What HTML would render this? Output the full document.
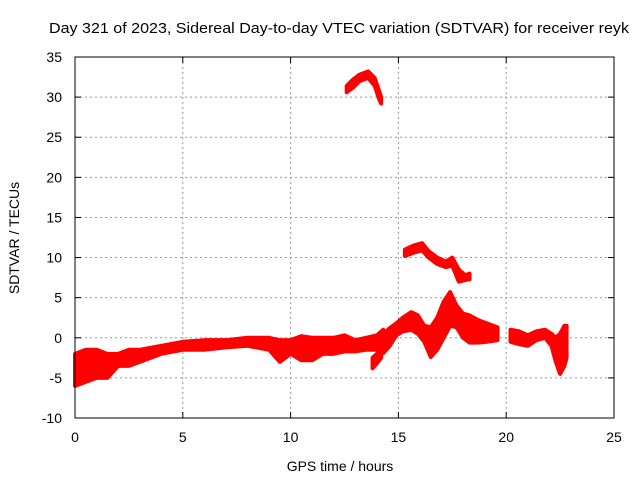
<!DOCTYPE html>
<html><head><meta charset="utf-8"><style>
body{margin:0;background:#fff;}
svg{display:block;font-family:"Liberation Sans",sans-serif;}
</style></head><body>
<svg id="chart" width="640" height="480">
<rect width="640" height="480" fill="#fff"/>
<text x="339" y="33" font-size="15" text-anchor="middle" textLength="580" lengthAdjust="spacingAndGlyphs">Day 321 of 2023, Sidereal Day-to-day VTEC variation (SDTVAR) for receiver reyk</text>
<text x="340" y="471" font-size="14" text-anchor="middle">GPS time / hours</text>
<text transform="translate(19,238) rotate(-90)" font-size="14" text-anchor="middle">SDTVAR / TECUs</text>
<g id="grid"></g><g id="ticks"></g><g id="data"></g>
<rect x="75" y="57" width="539" height="361" fill="none" stroke="#000" stroke-width="1"/>
</svg>
<script>
const xTicks=[0,5,10,15,20,25];
const yTicks=[-10,-5,0,5,10,15,20,25,30,35];
// bands: times, upper values, lower values
const mainT=[0,0.5,1,1.5,2,2.5,3,4,5,6,7,8,9,9.5,10,10.5,11,11.5,12,12.5,13,13.5,14,14.3];
const mainHi=[-2,-1.5,-1.5,-2,-2,-1.5,-1.5,-1,-0.5,-0.3,-0.3,0,0,-0.3,-0.3,0.2,0,0,0,0.3,-0.3,0,0.3,1];
const mainLo=[-6,-5.5,-5,-5,-3.5,-3.5,-3,-2,-1.5,-1.5,-1.2,-1,-1.5,-3,-2,-2.8,-2.8,-2,-2,-1.7,-1.7,-1.5,-1.5,-1];
const dipT=[13.8,14.0,14.2];
const dipHi=[-2.5,-2,-1.5];
const dipLo=[-3.8,-3.2,-2.5];
const waveT=[14.3,14.6,14.9,15.2,15.6,15.9,16.2,16.5,16.8,17.1,17.4,17.7,18.0,18.3,18.7,19.1,19.6];
const waveHi=[0.5,1.2,1.8,2.5,3.2,2.8,1.5,1.3,2.5,4.5,5.7,4.0,3.0,2.8,2.2,1.8,1.3];
const waveLo=[-1.9,-1.0,0.3,0.8,1.0,0.5,-0.5,-2.4,-1.5,0,1.5,1.3,0,-0.6,-0.6,-0.5,-0.3];
const highT=[15.3,15.7,16.1,16.4,16.8,17.2,17.5,17.8,18.1,18.3];
const highHi=[11.0,11.5,11.8,10.8,10.0,9.5,10.0,8.5,7.8,8.0];
const highLo=[10.2,10.6,10.9,10.0,9.2,8.8,9.0,7.0,7.2,7.3];
const topT=[12.6,12.9,13.2,13.6,13.9,14.1,14.2];
const topHi=[31.4,32.2,32.8,33.2,32.4,30.8,30.0];
const topLo=[30.6,31.2,32.0,32.4,31.4,29.8,29.2];
const lateT=[20.2,20.6,21.0,21.4,21.8,22.1,22.3,22.5,22.7,22.8];
const lateHi=[1.0,0.8,0.3,0.8,1.0,0.5,0,0.5,1.5,1.5];
const lateLo=[-0.5,-0.8,-1.0,-0.3,0,-1.0,-3.0,-4.5,-3.5,-2.5];
const sx=v=>75+v*539/25;
const sy=v=>418-(v+10)*361/45;
const NS="http://www.w3.org/2000/svg";
const grid=document.getElementById('grid'),ticks=document.getElementById('ticks'),data=document.getElementById('data');
function mk(tag,attrs,parent){const e=document.createElementNS(NS,tag);for(const k in attrs)e.setAttribute(k,attrs[k]);parent.appendChild(e);return e;}
xTicks.forEach(t=>{const x=sx(t);
 if(t>0&&t<25){const g=mk('line',{x1:x,x2:x,y1:57,y2:418,stroke:'#999','stroke-dasharray':'2,3'},grid);
 
 }
 mk('line',{x1:x,x2:x,y1:418,y2:412,stroke:'#000'},ticks);mk('line',{x1:x,x2:x,y1:57,y2:63,stroke:'#000'},ticks);
 const l=mk('text',{x:x,y:442,'font-size':14,'text-anchor':'middle'},ticks);l.textContent=t;
 
 });
yTicks.forEach(t=>{const y=sy(t);
 if(t>-10&&t<35){const g=mk('line',{x1:75,x2:614,y1:y,y2:y,stroke:'#999','stroke-dasharray':'2,3'},grid);
 
 }
 mk('line',{x1:75,x2:81,y1:y,y2:y,stroke:'#000'},ticks);mk('line',{x1:614,x2:608,y1:y,y2:y,stroke:'#000'},ticks);
 const l=mk('text',{x:62,y:y+5,'font-size':14,'text-anchor':'end'},ticks);l.textContent=t;
 
 });
function band(T,H,L,name){
 const pts=T.map((t,i)=>sx(t)+','+sy(H[i])).concat(T.map((t,i)=>sx(t)+','+sy(L[i])).reverse()).join(' ');
 const p=mk('polygon',{points:pts,fill:'#f00',stroke:'#f00','stroke-width':4,'stroke-linejoin':'round'},data);
 
 
}
band(mainT,mainHi,mainLo,'series-main-band');
band(dipT,dipHi,dipLo,'series-dip-band');
band(waveT,waveHi,waveLo,'series-wave-band');
band(highT,highHi,highLo,'series-high-band');
band(topT,topHi,topLo,'series-top-band');
band(lateT,lateHi,lateLo,'series-late-band');
</script>
</body></html>
